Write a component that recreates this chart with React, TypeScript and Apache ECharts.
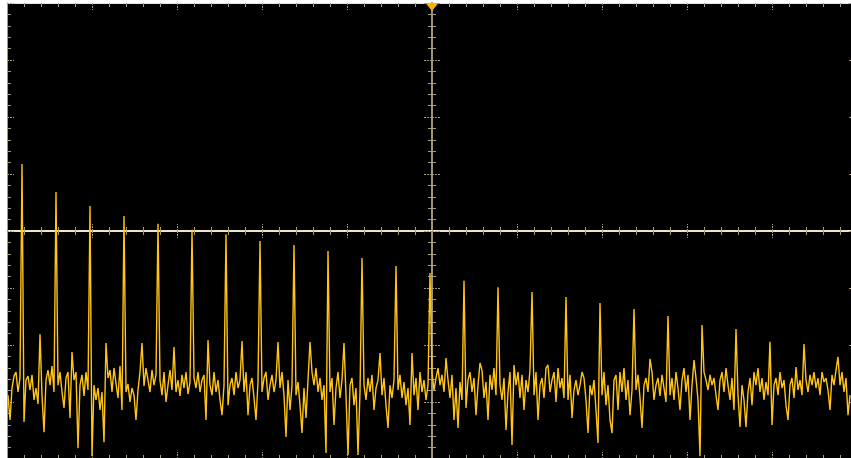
import React, { useEffect, useRef } from "react";
import * as echarts from "echarts";

// FFT display: bins of the spectrum (value axis, one bin per index), level in dBV (20 dB/div)
const binCount = 422;
const binMin = -0.5;
const binMax = 424.5;
const levelMin = -80;
const levelMax = 80;

// harmonic lines: bin index and level (dBV)
const harmonicBins = [7, 24, 41, 58, 75, 92, 109, 126, 143, 160, 177, 194, 211, 228, 245, 262, 279, 296, 313, 330, 347, 364, 381, 398, 415];
const harmonicLevels = [23.5, 13.7, 8.8, 5.3, 2.5, 0.4, -1.1, -3.5, -4.9, -7.0, -9.5, -12.3, -14.7, -17.5, -19.7, -21.4, -23.2, -25.3, -27.4, -29.8, -33.0, -34.4, -38.9, -39.7, -44.2];

// noise floor levels (dBV) for all non-harmonic bins, in bin order
const noiseFloor = [
  -57.6, -66.3, -55.1, -50.9, -49.5, -56.5, -51.6,
  -67.0, -52.3, -50.9, -55.8, -50.5, -59.3, -55.1, -60.7, -36.2, -57.6, -70.6, -52.3, -48.8, -54.1, -47.4, -56.5,
  -54.1, -49.5, -56.5, -62.1, -51.6, -49.5, -65.6, -42.5, -52.3, -49.5, -76.2, -54.1, -50.5, -57.9, -49.5, -55.8,
  -79.0, -54.1, -59.3, -55.1, -62.8, -56.5, -74.1, -39.3, -51.6, -48.8, -56.5, -48.1, -53.4, -58.6, -47.4, -62.8,
  -56.5, -53.7, -60.0, -55.1, -57.6, -66.3, -55.8, -49.5, -39.3, -54.4, -48.1, -52.3, -56.5, -48.8, -54.1, -50.5,
  -52.3, -57.6, -49.5, -60.0, -54.1, -48.8, -55.8, -40.7, -56.5, -52.3, -57.9, -50.5, -55.1, -49.5, -57.2, -53.0,
  -51.6, -55.1, -49.5, -56.5, -52.3, -50.5, -66.3, -38.3, -54.1, -57.6, -49.5, -56.5, -52.3, -59.3, -64.6, -54.1,
  -61.1, -54.1, -51.6, -57.6, -49.5, -55.1, -52.3, -38.6, -56.5, -49.5, -64.6, -54.1, -51.6, -58.6, -66.3, -53.0,
  -56.5, -51.6, -49.5, -59.3, -54.1, -50.5, -56.5, -52.3, -39.0, -55.1, -49.5, -57.6, -72.3, -52.3, -62.8, -54.1,
  -57.6, -53.0, -61.1, -70.9, -55.1, -65.6, -52.3, -39.0, -49.5, -54.1, -48.1, -56.5, -51.6, -59.3, -54.1, -77.9,
  -56.5, -51.6, -68.1, -55.1, -49.5, -58.6, -52.3, -39.3, -57.6, -78.6, -54.1, -51.6, -61.1, -55.1, -78.6, -56.5,
  -54.1, -59.3, -51.6, -56.5, -50.5, -62.8, -55.1, -52.3, -42.8, -57.6, -51.6, -61.1, -69.1, -54.1, -58.6, -52.3,
  -55.8, -50.5, -58.6, -53.0, -61.1, -55.1, -68.1, -42.8, -57.6, -51.6, -62.8, -49.5, -56.5, -52.3, -59.3, -54.1,
  -49.5, -55.8, -51.6, -48.1, -54.1, -50.5, -56.5, -44.6, -52.3, -58.6, -50.5, -66.3, -55.1, -69.1, -53.0, -59.3,
  -62.1, -52.3, -49.5, -56.5, -51.6, -64.6, -54.1, -46.3, -48.8, -58.6, -53.0, -66.3, -50.5, -55.8, -48.1, -57.6,
  -54.1, -59.3, -51.6, -69.8, -56.5, -49.5, -75.1, -47.0, -54.1, -49.5, -58.6, -50.5, -62.8, -52.3, -56.5, -48.8,
  -57.6, -49.5, -66.3, -54.1, -51.6, -58.6, -48.1, -47.0, -56.5, -52.3, -49.5, -60.0, -48.1, -55.1, -51.6, -58.6,
  -59.3, -50.5, -65.6, -55.8, -52.3, -57.6, -54.1, -49.5, -51.6, -59.3, -70.9, -54.1, -57.6, -52.3, -62.8, -74.4,
  -57.6, -49.5, -61.1, -54.1, -66.3, -70.9, -52.3, -50.5, -62.8, -49.5, -56.5, -48.1, -59.3, -52.3, -64.6, -55.8,
  -55.8, -50.5, -58.6, -69.1, -54.1, -51.6, -56.5, -44.9, -49.5, -59.3, -54.1, -51.6, -57.9, -50.5, -55.1, -60.0,
  -57.6, -51.6, -59.3, -49.5, -55.1, -62.8, -52.3, -48.1, -56.5, -50.5, -66.3, -54.1, -45.3, -51.6, -59.3, -79.0,
  -49.5, -52.3, -55.8, -50.5, -54.1, -51.6, -57.6, -62.8, -52.3, -49.5, -56.5, -48.1, -54.1, -59.3, -51.6, -62.8,
  -57.6, -68.8, -54.1, -59.3, -68.8, -56.5, -51.6, -61.1, -49.5, -54.1, -48.1, -56.5, -51.6, -59.3, -53.0, -57.6,
  -68.1, -54.1, -51.6, -57.6, -49.5, -55.1, -52.3, -61.1, -66.3, -54.1, -51.6, -58.6, -47.7, -55.8, -52.3, -57.6,
  -52.3, -56.5, -50.5, -54.1, -49.5, -55.1, -51.6, -57.6, -49.5, -53.0, -51.6, -55.8, -62.8, -50.5, -54.1, -48.8,
  -54.1, -49.5, -56.5, -51.6, -64.6, -57.6,
];

// graticule: 10 x 8 divisions, 5 minor ticks per division
const divX = [-5, 5];
const divY = [-4, 4];

const TICK = "#a69d7e";
const GRID_RECT = { left: 7, top: 3, width: 850, height: 456 };

function buildSpectrum(): number[][] {
  const out: number[][] = [];
  let j = 0;
  for (let b = 0; b < binCount; b++) {
    const h = harmonicBins.indexOf(b);
    out.push([b, h >= 0 ? harmonicLevels[h] : noiseFloor[j++]]);
  }
  return out;
}

function gratX(gridIndex: number, position: string, inside: boolean, onZero: boolean, lineShow: boolean, lineColor: string, lineWidth: number, majorLen: number, minorLen: number) {
  return {
    type: "value",
    gridIndex,
    min: divX[0],
    max: divX[1],
    interval: 1,
    position,
    axisLine: { show: lineShow, onZero, lineStyle: { color: lineColor, width: lineWidth } },
    axisTick: { show: true, inside, length: majorLen, lineStyle: { color: TICK, width: 1, type: [2, 1] } },
    minorTick: { show: true, splitNumber: 5, length: minorLen, lineStyle: { color: TICK, width: 1 } },
    axisLabel: { show: false },
    splitLine: { show: false },
    minorSplitLine: { show: false },
  };
}

function gratY(gridIndex: number, position: string, inside: boolean, onZero: boolean, lineShow: boolean, lineColor: string, lineWidth: number, majorLen: number, minorLen: number) {
  return {
    type: "value",
    gridIndex,
    min: divY[0],
    max: divY[1],
    interval: 1,
    position,
    axisLine: { show: lineShow, onZero, lineStyle: { color: lineColor, width: lineWidth } },
    axisTick: { show: true, inside, length: majorLen, lineStyle: { color: TICK, width: 1, type: [2, 1] } },
    minorTick: { show: true, splitNumber: 5, length: minorLen, lineStyle: { color: TICK, width: 1 } },
    axisLabel: { show: false },
    splitLine: { show: false },
    minorSplitLine: { show: false },
  };
}

export default function App() {
  const ref = useRef<HTMLDivElement>(null);
  useEffect(() => {
    if (!ref.current) return;
    const chart = echarts.init(ref.current, undefined, { renderer: "svg" });
    const centerBin = (binMin + binMax) / 2;
    chart.setOption({
      animation: false,
      backgroundColor: "#ffffff",
      grid: [
        { ...GRID_RECT, show: true, backgroundColor: "#000000", borderWidth: 0 },
        { ...GRID_RECT, show: false },
        { ...GRID_RECT, show: false },
        { ...GRID_RECT, show: false },
      ],
      xAxis: [
        { type: "value", gridIndex: 0, min: binMin, max: binMax, show: false },
        gratX(1, "top", true, false, true, "#d6eaea", 1, 7, 4),
        gratX(1, "bottom", true, false, false, "#d6eaea", 1, 7, 4),
        gratX(2, "bottom", false, true, true, "#efe6c4", 2, 7, 4),
        gratX(3, "bottom", true, true, true, "#efe6c4", 2, 7, 4),
      ],
      yAxis: [
        { type: "value", gridIndex: 0, min: levelMin, max: levelMax, show: false },
        gratY(1, "left", true, false, true, "#55baba", 1, 7, 4),
        gratY(1, "right", true, false, false, "#55baba", 1, 8, 4),
        gratY(2, "left", false, true, true, "#9c9479", 2, 8, 4),
        gratY(3, "left", true, true, true, "#9c9479", 2, 8, 4),
      ],
      series: [
        {
          type: "line",
          xAxisIndex: 0,
          yAxisIndex: 0,
          data: buildSpectrum(),
          showSymbol: false,
          symbol: "none",
          clip: true,
          z: 3,
          lineStyle: { color: "#ffc414", width: 1.4 },
          markPoint: {
            symbol: "triangle",
            symbolRotate: 180,
            symbolSize: [13, 8],
            symbolOffset: [0, 4],
            itemStyle: { color: "#f5b400" },
            label: { show: false },
            data: [{ coord: [centerBin, levelMax] }],
          },
        },
      ],
    });
    return () => chart.dispose();
  }, []);
  return (
    <div
      style={{ position: "absolute", left: 0, top: 0, width: 851, height: 458, overflow: "hidden" }}
    >
      <div ref={ref} style={{ width: 860, height: 462 }} />
    </div>
  );
}
